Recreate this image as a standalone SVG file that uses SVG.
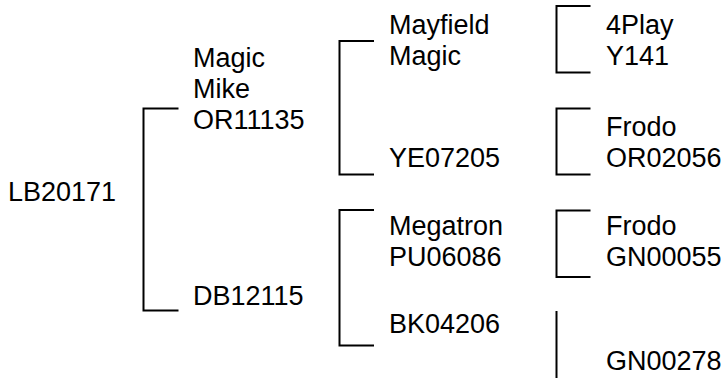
<svg xmlns="http://www.w3.org/2000/svg" width="723" height="378" viewBox="0 0 723 378">
<style>
text{font-family:"Liberation Sans",Arial,sans-serif;font-size:27px;fill:#000}
.c{fill:none;stroke:#000;stroke-width:2}
</style>
<rect width="723" height="378" fill="#fff"/>
<g id="connectors">
<path class="c" d="M178.5,108.5H143.5V310.5H178.5"/>
<path class="c" d="M374,41H339.5V174.5H374"/>
<path class="c" d="M374,210H339.5V345.5H374"/>
<path class="c" d="M590.5,6H556.5V72.5H590.5"/>
<path class="c" d="M590.5,108.5H556.5V174.5H590.5"/>
<path class="c" d="M590.5,210.5H556.5V277H590.5"/>
<path class="c" d="M556.5,311V378"/>
</g>
<g id="LB20171"><text x="8" y="201">LB20171</text></g>
<g id="OR11135"><text x="193" y="67">Magic</text><text x="193" y="98">Mike</text><text x="193" y="129">OR11135</text></g>
<g id="DB12115"><text x="193" y="305">DB12115</text></g>
<g id="MayfieldMagic"><text x="389" y="34">Mayfield</text><text x="389" y="65">Magic</text></g>
<g id="YE07205"><text x="389" y="167">YE07205</text></g>
<g id="PU06086"><text x="389" y="235">Megatron</text><text x="389" y="265.5">PU06086</text></g>
<g id="BK04206"><text x="389" y="333">BK04206</text></g>
<g id="Y141"><text x="606" y="34">4Play</text><text x="606" y="65">Y141</text></g>
<g id="OR02056"><text x="606" y="136">Frodo</text><text x="606" y="167">OR02056</text></g>
<g id="GN00055"><text x="606" y="235">Frodo</text><text x="606" y="265.5">GN00055</text></g>
<g id="GN00278"><text x="606" y="370">GN00278</text></g>
</svg>
